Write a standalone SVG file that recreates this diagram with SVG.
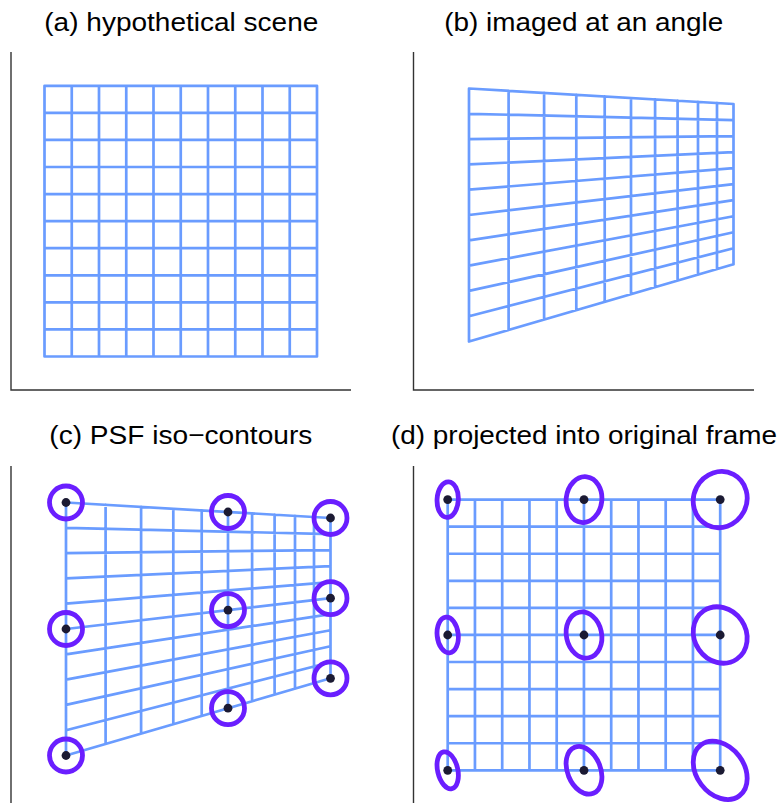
<svg xmlns="http://www.w3.org/2000/svg" xmlns:xlink="http://www.w3.org/1999/xlink" width="781" height="803" viewBox="0 0 781 803">
<style>
.title{font-family:"Liberation Sans",Arial,sans-serif;font-size:26px;fill:#000}
.axis{stroke:#333;stroke-width:1.4;fill:none}
.grid{stroke:#6a9cff;stroke-width:2.7;fill:none;stroke-linecap:round;stroke-linejoin:round}
.psf{stroke:#6a1eff;stroke-width:4.8;fill:none}
.dot{fill:#1b1a33}
</style>
<defs>
<path id="sq" class="grid" d="M44.5 85.8V356.5M71.75 85.8V356.5M99 85.8V356.5M126.25 85.8V356.5M153.5 85.8V356.5M180.75 85.8V356.5M208 85.8V356.5M235.25 85.8V356.5M262.5 85.8V356.5M289.75 85.8V356.5M317 85.8V356.5M44.5 85.8H317M44.5 112.87H317M44.5 139.94H317M44.5 167.01H317M44.5 194.08H317M44.5 221.15H317M44.5 248.22H317M44.5 275.29H317M44.5 302.36H317M44.5 329.43H317M44.5 356.5H317"/>
<path id="persp" class="grid" d="M469 88.5V341.5M508.6 90.82L508.6 329.94M544.1 92.9L544.1 319.58M576.3 94.79L576.3 310.18M604.7 96.45L604.7 301.89M631 97.99L631 294.22M655.1 99.41L655.1 287.18M677.6 100.72L677.6 280.61M698 101.92L698 274.66M717 103.03L717 269.12M733.5 104L733.5 264.3M469 88.5L733.5 104M469 113.8L733.5 120.03M469 139.1L733.5 136.06M469 164.4L733.5 152.09M469 189.7L733.5 168.12M469 215L733.5 184.15M469 240.3L733.5 200.18M469 265.6L733.5 216.21M469 290.9L733.5 232.24M469 316.2L733.5 248.27M469 341.5L733.5 264.3"/>
</defs>

<g id="panel-a">
<text class="title" x="44.3" y="31" textLength="274" lengthAdjust="spacingAndGlyphs">(a) hypothetical scene</text>
<path class="axis" d="M11 52V390H351"/>
<use xlink:href="#sq"/>
</g>

<g id="panel-b">
<text class="title" x="444.3" y="31" textLength="279" lengthAdjust="spacingAndGlyphs">(b) imaged at an angle</text>
<path class="axis" d="M413.5 52V390H754"/>
<use xlink:href="#persp"/>
</g>

<g id="panel-c">
<text class="title" x="49.3" y="444" textLength="263" lengthAdjust="spacingAndGlyphs">(c) PSF iso−contours</text>
<path class="axis" d="M11 466V803"/>
<use xlink:href="#persp" transform="translate(-403 414)"/>
<g id="psf-c">
<circle class="psf" cx="66" cy="502.5" r="16.5"/>
<circle class="psf" cx="228" cy="512" r="16.5"/>
<circle class="psf" cx="330.5" cy="518" r="16.5"/>
<circle class="psf" cx="66" cy="629" r="16.5"/>
<circle class="psf" cx="228" cy="610.1" r="16.5"/>
<circle class="psf" cx="330.5" cy="598.2" r="16.5"/>
<circle class="psf" cx="66" cy="755.5" r="16.5"/>
<circle class="psf" cx="228" cy="708.2" r="16.5"/>
<circle class="psf" cx="330.5" cy="678.3" r="16.5"/>
</g>
<g id="dots-c">
<circle class="dot" cx="66" cy="502.5" r="4.4"/>
<circle class="dot" cx="228" cy="512" r="4.4"/>
<circle class="dot" cx="330.5" cy="518" r="4.4"/>
<circle class="dot" cx="66" cy="629" r="4.4"/>
<circle class="dot" cx="228" cy="610.1" r="4.4"/>
<circle class="dot" cx="330.5" cy="598.2" r="4.4"/>
<circle class="dot" cx="66" cy="755.5" r="4.4"/>
<circle class="dot" cx="228" cy="708.2" r="4.4"/>
<circle class="dot" cx="330.5" cy="678.3" r="4.4"/>
</g>
</g>

<g id="panel-d">
<text class="title" x="391" y="444" textLength="386" lengthAdjust="spacingAndGlyphs">(d) projected into original frame</text>
<path class="axis" d="M413.5 466V803"/>
<use xlink:href="#sq" transform="translate(403.2 413.8)"/>
<g id="psf-d">
<ellipse class="psf" cx="447.7" cy="499.6" rx="10.64" ry="17.79" transform="rotate(3.1 447.7 499.6)"/>
<ellipse class="psf" cx="584" cy="499.6" rx="17.82" ry="22.98" transform="rotate(6.6 584 499.6)"/>
<ellipse class="psf" cx="720.2" cy="499.6" rx="26.53" ry="28.49" transform="rotate(27.8 720.2 499.6)"/>
<ellipse class="psf" cx="447.7" cy="635" rx="10.56" ry="17.93" transform="rotate(-6.1 447.7 635)"/>
<ellipse class="psf" cx="584" cy="635" rx="17.6" ry="23.27" transform="rotate(-12.2 584 635)"/>
<ellipse class="psf" cx="720.2" cy="635" rx="25.83" ry="29.25" transform="rotate(-34.5 720.2 635)"/>
<ellipse class="psf" cx="447.7" cy="770.3" rx="10.06" ry="18.82" transform="rotate(-12.95 447.7 770.3)"/>
<ellipse class="psf" cx="584" cy="770.3" rx="16.5" ry="24.83" transform="rotate(-22 584 770.3)"/>
<ellipse class="psf" cx="720.2" cy="770.3" rx="23.68" ry="31.91" transform="rotate(-37.1 720.2 770.3)"/>
</g>
<g id="dots-d">
<circle class="dot" cx="447.7" cy="499.6" r="4.4"/>
<circle class="dot" cx="584" cy="499.6" r="4.4"/>
<circle class="dot" cx="720.2" cy="499.6" r="4.4"/>
<circle class="dot" cx="447.7" cy="635" r="4.4"/>
<circle class="dot" cx="584" cy="635" r="4.4"/>
<circle class="dot" cx="720.2" cy="635" r="4.4"/>
<circle class="dot" cx="447.7" cy="770.3" r="4.4"/>
<circle class="dot" cx="584" cy="770.3" r="4.4"/>
<circle class="dot" cx="720.2" cy="770.3" r="4.4"/>
</g>
</g>
</svg>
